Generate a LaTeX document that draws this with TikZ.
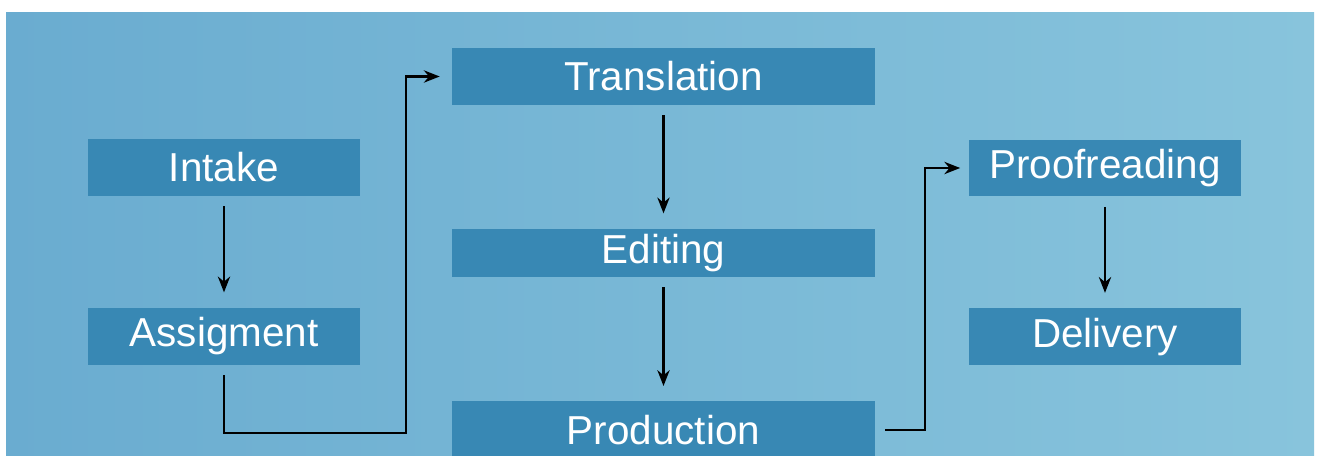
\documentclass[tikz,border=0pt]{standalone}
\usepackage{fontspec}
\setmainfont{Liberation Sans}
\usepackage{tikz}
\usetikzlibrary{arrows.meta, positioning, shapes}
\definecolor{paneldark}{RGB}{106,172,208}
\definecolor{panellight}{RGB}{136,196,220}
\definecolor{boxblue}{RGB}{56,136,180}
\tikzset{
		stage/.style={fill=boxblue, text=white, inner sep=0pt, minimum height=1.14cm,
			font=\fontsize{23}{27}\selectfont},
		narrow/.style={stage, minimum width=5.46cm},
		wide/.style={stage, minimum width=8.46cm},
		flow/.style={->, line width=1.2pt, shorten <=0.2cm, shorten >=0.3cm}
	}

\begin{document}
\begin{tikzpicture}[>={Stealth[length=9pt,width=7pt]}, x=0.02cm, y=-0.02cm, node distance=2.22cm]
				\useasboundingbox (0,0) rectangle (1320,456);
				\fill[white] (0,0) rectangle (1320,456);
				\shade[left color=paneldark, right color=panellight] (6,13) rectangle (1314,456);

				\node[narrow]                      (intake) at (224,167.5) {Intake};
				\node[narrow, below = of intake]   (assig)                 {Assigment};
				\node[wide]                        (trans)  at (663.5,76.5) {Translation};
				\node[wide, minimum height=0.96cm, below = 2.46cm of trans] (edit) {Editing};
				\node[wide, below = 2.48cm of edit] (prod)                  {Production};
				\node[narrow]                      (proof)  at (1105,168)  {Proofreading};
				\node[narrow, below = of proof]    (deliv)                 {Delivery};

				\coordinate (bendA) at (406,433);
				\coordinate (bendB) at (925,300);

				\draw[flow] (intake) -- (assig);
				\draw[flow] (trans)  -- (edit);
				\draw[flow] (edit)   -- (prod);
				\draw[flow] (proof)  -- (deliv);
				\draw[flow, shorten >=0.24cm] (assig.south) |- (bendA) |- (trans.west);
				\draw[flow, shorten >=0.16cm] (prod.east) -| (bendB) |- (proof.west);
			\end{tikzpicture}
\end{document}
